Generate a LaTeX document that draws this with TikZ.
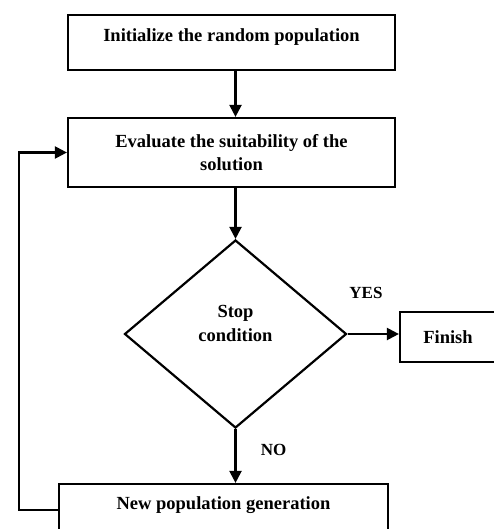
\documentclass[tikz,border=0pt]{standalone}
\usepackage{fontspec}
\setmainfont{Liberation Serif}
\usetikzlibrary{shapes.geometric,arrows.meta}
\begin{document}
\begin{tikzpicture}[x=1pt,y=-1pt,
  every node/.style={font=\fontsize{18.5}{23.5}\selectfont\bfseries, align=center, inner sep=0pt},
  box/.style={draw, rectangle, line width=2.2pt},
  dia/.style={draw, diamond, line width=2.2pt},
  lbl/.style={font=\fontsize{17}{20}\selectfont\bfseries},
  arr/.style={line width=2.2pt, -{Triangle[length=12pt,width=12pt]}}]
\useasboundingbox (0,0) rectangle (494,529);
\clip (0,0) rectangle (494,529);
\fill[white] (0,0) rectangle (494,529);
\node[box, minimum width=327pt, minimum height=55pt] (init) at (231.5,42.5)
  {\raisebox{5pt}[\height][\depth]{Initialize the random population}};
\node[box, minimum width=327pt, minimum height=69pt] (eval) at (231.5,152.5)
  {Evaluate the suitability of the\\solution};
\node[dia, minimum width=222pt, minimum height=188pt] (dec) at (235.5,334)
  {\raisebox{9pt}[\height][\depth]{\begin{tabular}{@{}c@{}}Stop\\[1pt]condition\end{tabular}}};
\node[box, minimum width=104pt, minimum height=50pt] (fin) at (452,337) {\hspace*{-8pt}Finish};
\node[box, minimum width=329pt, minimum height=52pt] (newp) at (223.5,510)
  {\raisebox{5pt}[\height][\depth]{New population generation}};
\node[lbl] (yes) at (366,293) {YES};
\node[lbl] (no) at (273.5,450) {NO};
\coordinate (lp) at (19,330);
\draw[arr] (init.south -| dec.north) -- (eval.north -| dec.north);
\draw[arr] (eval.south -| dec.north) -- (dec.north);
\draw[arr] (dec.east) -- (dec.east -| fin.west);
\draw[arr] (dec.south) -- (newp.north -| dec.south);
\draw[arr] (newp.west) -- (newp.west -| lp) -- (eval.west -| lp) -- (eval.west);
\end{tikzpicture}
\end{document}
